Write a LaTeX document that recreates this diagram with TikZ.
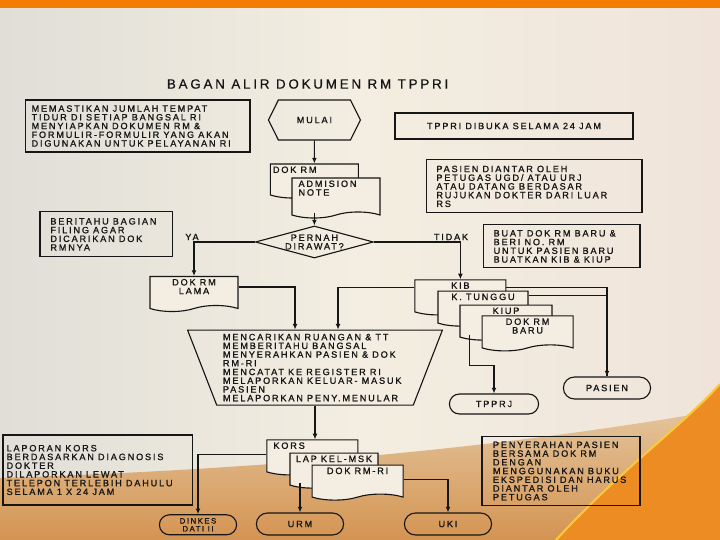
\documentclass[tikz,border=0pt]{standalone}
\usepackage{fontspec}
\setmainfont{Liberation Sans}
\newfontfamily\scanfont[LetterSpace=20, FakeBold=1.2]{Liberation Sans}
\newfontfamily\titlefont[LetterSpace=21, FakeBold=0.6]{Liberation Sans}
\usetikzlibrary{
    shapes.geometric,
    shapes.symbols,
    shapes.misc,
    arrows.meta,
    positioning,
    calc
}
\definecolor{bgCream}{RGB}{243, 238, 225}
\definecolor{bgGray}{RGB}{224, 222, 215}
\definecolor{bgPink}{RGB}{240, 228, 218}
\definecolor{barOrange}{RGB}{244, 124, 0}
\definecolor{sandTan}{RGB}{228, 196, 156}
\definecolor{sandDeep}{RGB}{212, 148, 82}
\definecolor{swooshOrange}{RGB}{236, 140, 34}
\definecolor{swooshGlow}{RGB}{250, 200, 60}
\definecolor{inkBlack}{RGB}{22, 22, 22}
\def\slideW{18}
\def\slideH{13.5}
\tikzset{
    scanText/.style={
        font=\scanfont\fontsize{6.5}{6.2}\selectfont,
        text=inkBlack,
        execute at begin node={\spaceskip=0.45em\relax}
    },
    titleText/.style={
        font=\titlefont\fontsize{9.5}{11}\selectfont,
        text=inkBlack
    },
    noteBox/.style={
        rectangle,
        draw=inkBlack,
        line width=0.8pt,
        scanText,
        align=left
    },
    startShape/.style={
        signal,
        signal to=east and west,
        signal pointer angle=127,
        draw=inkBlack,
        line width=0.8pt,
        minimum width=2.3cm,
        minimum height=1cm,
        scanText
    },
    docShape/.style={
        tape,
        tape bend top=none,
        tape bend height=0.15cm,
        draw=inkBlack,
        fill=bgCream,
        line width=0.8pt,
        inner sep=0pt
    },
    docLabel/.style={
        scanText,
        align=left,
        inner sep=2pt
    },
    decision/.style={
        diamond,
        aspect=3.7,
        inner sep=0pt,
        draw=inkBlack,
        line width=0.8pt,
        minimum width=2.95cm,
        minimum height=0.8cm,
        scanText,
        align=center
    },
    manualOp/.style={
        trapezium,
        shape border rotate=180,
        trapezium left angle=68,
        trapezium right angle=68,
        trapezium stretches=true,
        draw=inkBlack,
        line width=0.8pt,
        minimum width=6.375cm,
        minimum height=1.875cm,
        inner sep=0pt,
        scanText,
        align=left
    },
    terminal/.style={
        rounded rectangle,
        draw=inkBlack,
        line width=0.8pt,
        minimum width=2.25cm,
        minimum height=0.55cm,
        inner sep=1pt,
        scanText,
        align=center
    },
    flowLabel/.style={
        scanText,
        inner sep=1pt
    },
    flow/.style={
        draw=inkBlack,
        line width=0.8pt,
        -{Latex[length=4pt, width=3.5pt]}
    },
    plainFlow/.style={
        draw=inkBlack,
        line width=0.8pt
    }
}

\begin{document}
\begin{tikzpicture}
    \useasboundingbox (0,0) rectangle (\slideW, \slideH);
    % slide background
    \shade[left color=bgGray, right color=bgPink, middle color=bgCream] (0,0) rectangle (\slideW, \slideH);
    \shade[top color=sandTan, bottom color=sandDeep] (0,0) -- (0,1.55) .. controls (6,1.75) and (12,2.2) .. (\slideW,3.25) -- (\slideW,0) -- cycle;
    \fill[swooshOrange] (13.9,0) .. controls (15.5,1.75) and (17,2.8) .. (\slideW,3.9) -- (\slideW,0) -- cycle;
    \draw[swooshGlow, line width=1.5pt] (13.9,0) .. controls (15.5,1.75) and (17,2.8) .. (\slideW,3.9);
    \fill[barOrange] (0,13.3) rectangle (\slideW, \slideH);

    \node[titleText] (title) at (7.69, 11.4) {BAGAN ALIR DOKUMEN RM TPPRI};

    % Top row
    \node[noteBox, text width=5.3cm, inner xsep=0.16cm, minimum height=1.3cm] (prep) at (3.44, 10.35) {MEMASTIKAN JUMLAH TEMPAT\\TIDUR DI SETIAP BANGSAL RI\\MENYIAPKAN DOKUMEN RM \&\\FORMULIR-FORMULIR YANG AKAN\\DIGUNAKAN UNTUK PELAYANAN RI};
    \node[startShape] (mulai) at (7.86, 10.5) {MULAI};
    \node[noteBox, align=center, minimum width=5.95cm, minimum height=0.65cm] (open) at (12.85, 10.35) {TPPRI DIBUKA SELAMA 24 JAM};

    % Admission documents
    \node[docShape, minimum width=2.2cm, minimum height=0.85cm, label={[docLabel, anchor=north west]north west:DOK RM}] (dokrm) at (7.86, 9.05) {};
    \node[docShape, minimum width=2.2cm, minimum height=1cm, label={[docLabel, anchor=north west, xshift=0.1cm]north west:ADMISION\\NOTE}] (admnote) at (8.4, 8.625) {};
    \node[noteBox, text width=4.9cm, inner xsep=0.24cm, minimum height=1.325cm] (arrival) at (13.36, 8.84) {PASIEN DIANTAR OLEH\\PETUGAS UGD/ ATAU URJ\\ATAU DATANG BERDASAR\\RUJUKAN DOKTER DARI LUAR\\RS};

    % Decision
    \node[decision] (rawat) at (7.86, 7.45) {PERNAH\\DIRAWAT?};
    \node[noteBox, text width=2.8cm, inner xsep=0.26cm, minimum height=1.125cm] (filing) at (2.66, 7.64) {BERITAHU BAGIAN\\FILING AGAR\\DICARIKAN DOK\\RMNYA};
    \node[flowLabel] (ya) at (4.8, 7.575) {YA};
    \node[flowLabel] (tidak) at (11.275, 7.575) {TIDAK};
    \node[noteBox, text width=3.4cm, inner xsep=0.26cm, minimum height=1.075cm] (newdoc) at (14.04, 7.34) {BUAT DOK RM BARU \&\\BERI NO. RM\\UNTUK PASIEN BARU\\BUATKAN KIB \& KIUP};

    % Old record
    \node[docShape, minimum width=2.2cm, minimum height=0.875cm, label={[docLabel, align=center, anchor=north]north:DOK RM\\LAMA}] (lama) at (4.85, 6.225) {};

    % New record stack
    \node[docShape, minimum width=2.275cm, minimum height=0.875cm, label={[docLabel, anchor=north]north:KIB}] (kib) at (11.51, 6.14) {};
    \node[docShape, minimum width=2.25cm, minimum height=0.875cm, label={[docLabel, anchor=north]north:K. TUNGGU}] (ktunggu) at (12.075, 5.86) {};
    \node[docShape, minimum width=2.3cm, minimum height=0.875cm, label={[docLabel, anchor=north]north:KIUP}] (kiup) at (12.65, 5.51) {};
    \node[docShape, minimum width=2.275cm, minimum height=0.875cm, label={[docLabel, align=center, anchor=north]north:DOK RM\\BARU}] (dokbaru) at (13.19, 5.24) {};

    \node[terminal] (pasien) at (15.175, 3.8) {PASIEN};
    \node[terminal, minimum width=2.3cm, minimum height=0.5cm] (tpprj) at (12.35, 3.4) {TPPRJ};

    % Ward handling
    \node[manualOp, text width=4.6cm] (ward) at (7.875, 4.31) {MENCARIKAN RUANGAN \& TT\\MEMBERITAHU BANGSAL\\MENYERAHKAN PASIEN \& DOK\\RM-RI\\MENCATAT KE REGISTER RI\\MELAPORKAN KELUAR- MASUK\\PASIEN\\MELAPORKAN PENY.MENULAR};

    % Report stack
    \node[docShape, minimum width=2.275cm, minimum height=0.875cm, label={[docLabel, anchor=north west, xshift=0.1cm]north west:KORS}] (kors) at (7.81, 2.14) {};
    \node[docShape, minimum width=2.2cm, minimum height=0.875cm, label={[docLabel, anchor=north]north:LAP KEL-MSK}] (lapkel) at (8.35, 1.81) {};
    \node[docShape, minimum width=2.275cm, minimum height=0.875cm, label={[docLabel, anchor=north]north:DOK RM-RI}] (dokrmri) at (8.94, 1.51) {};

    \node[noteBox, text width=4.55cm, inner xsep=0.09cm, minimum height=1.75cm] (korsnote) at (2.44, 1.75) {LAPORAN KORS\\BERDASARKAN DIAGNOSIS\\DOKTER\\DILAPORKAN LEWAT\\TELEPON TERLEBIH DAHULU\\SELAMA 1 X 24 JAM};
    \node[noteBox, text width=3.4cm, inner xsep=0.275cm, minimum height=1.7cm] (handover) at (14.025, 1.725) {PENYERAHAN PASIEN\\BERSAMA DOK RM\\DENGAN\\MENGGUNAKAN BUKU\\EKSPEDISI DAN HARUS\\DIANTAR OLEH\\PETUGAS};

    \node[terminal, minimum width=2cm, minimum height=0.5cm, font=\scanfont\fontsize{5.5}{5.6}\selectfont] (dinkes) at (4.95, 0.38) {DINKES\\DATI II};
    \node[terminal] (urm) at (7.5, 0.4) {URM};
    \node[terminal] (uki) at (11.2, 0.4) {UKI};

    % Connections
    \draw[flow] (mulai) -- (dokrm);
    \draw[flow] (rawat.north |- admnote.south) -- (rawat.north);
    \draw[flow] (rawat.west) -| (lama.north);
    \draw[flow] (rawat.east) -| (kib.north);
    \draw[flow] ([yshift=0.1cm]lama.east) -| ([xshift=-0.5cm]ward.north);
    \draw[flow] ([yshift=0.175cm]kib.west) -| ([xshift=0.575cm]ward.north);
    \draw[flow] ([yshift=-0.2cm]kib.north east) -| (pasien.north);
    \draw[plainFlow] ([yshift=-0.125cm]ktunggu.north east) -| (pasien.north);
    \draw[flow] ([xshift=0.25cm]kiup.south west) -- ++(0,-0.77) -| (tpprj.north);
    \draw[flow] (ward.south) -- (ward.south |- kors.north);
    \draw[flow] (kors.west) -| (dinkes.north);
    \draw[flow] (urm.north |- lapkel.south) -- (urm.north);
    \draw[flow] (dokrmri.east) -| (uki.north);
\end{tikzpicture}
\end{document}
